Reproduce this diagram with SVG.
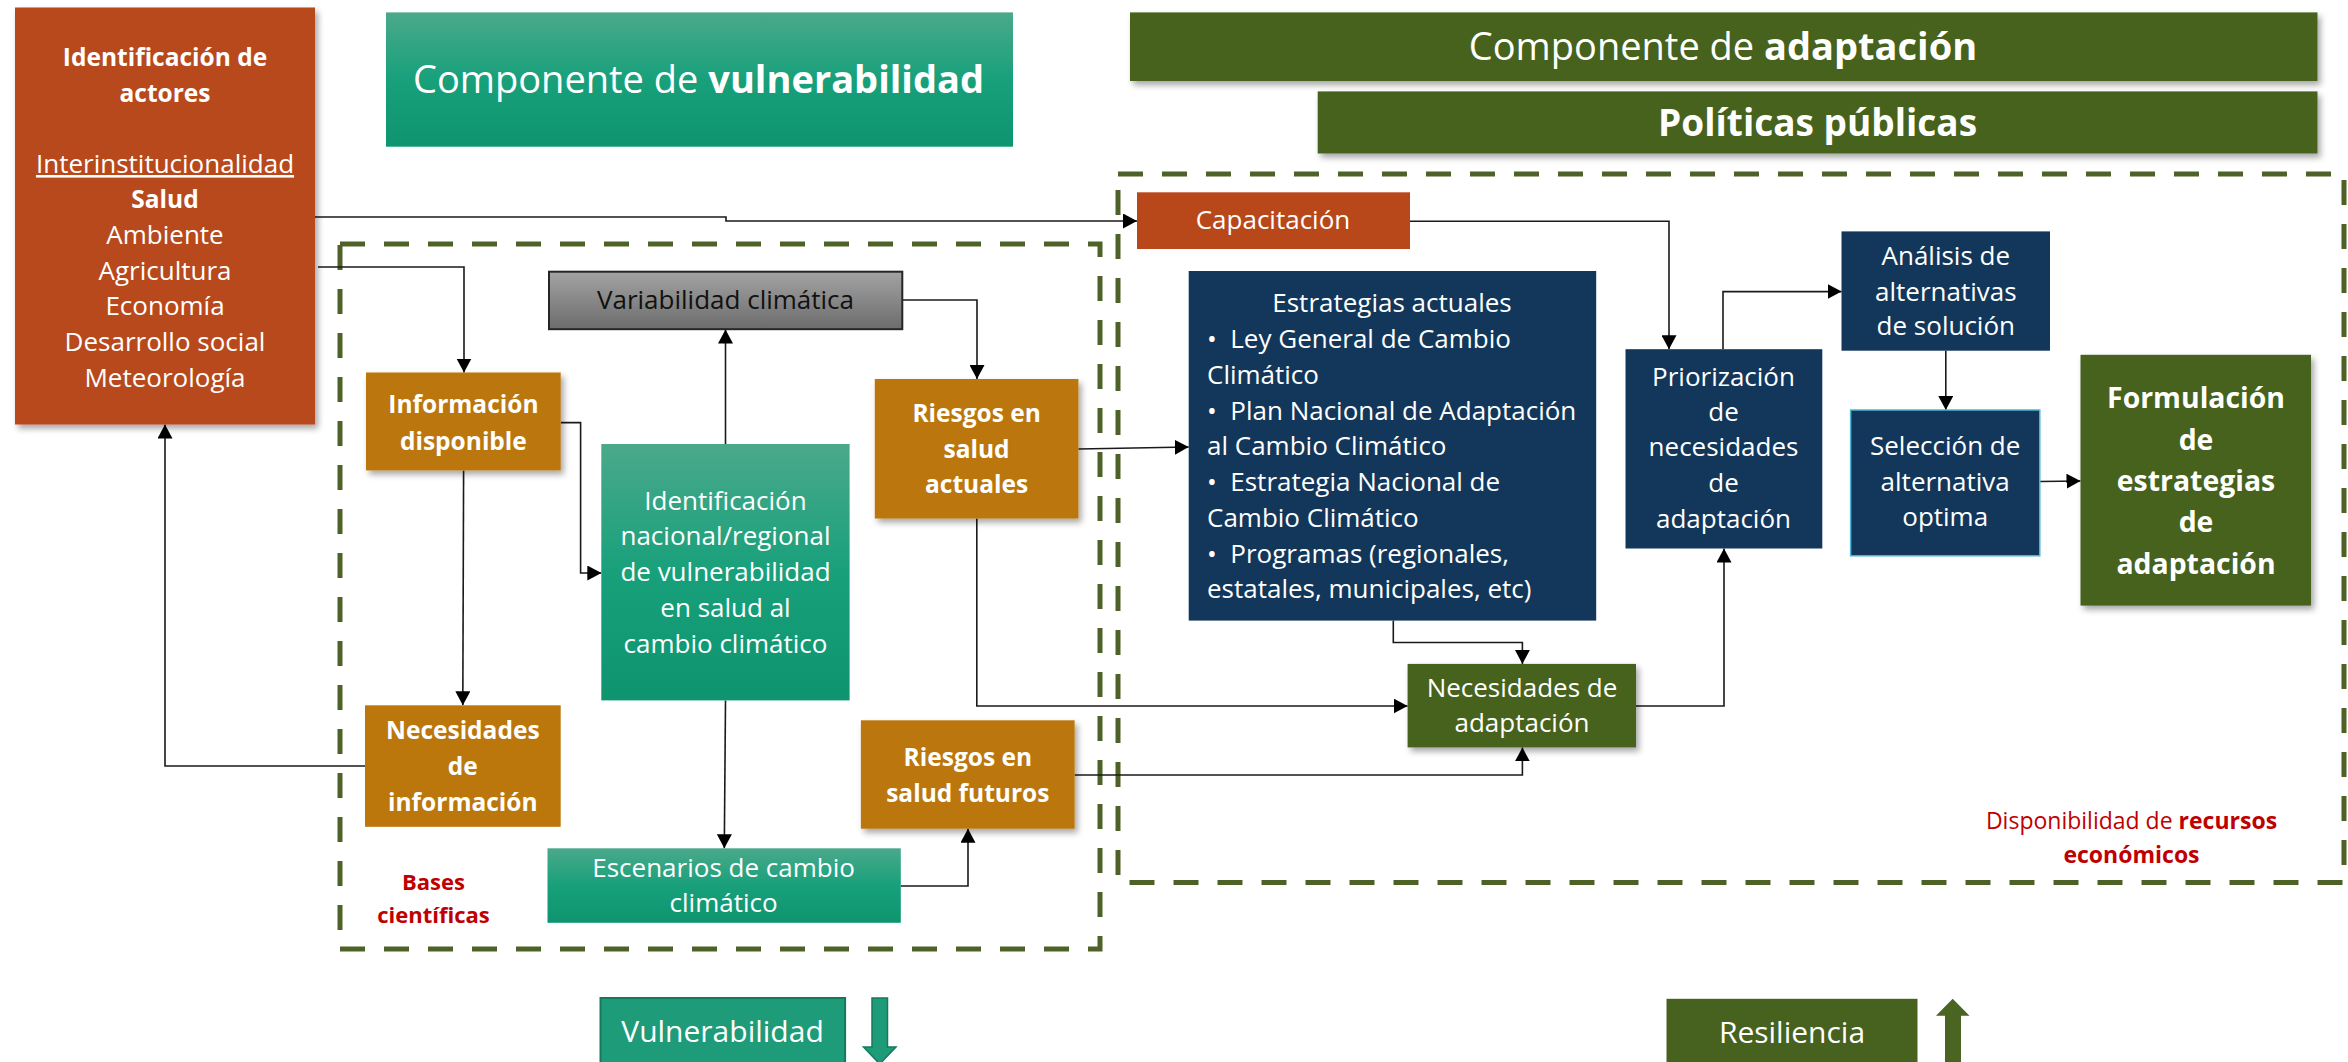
<svg xmlns="http://www.w3.org/2000/svg" width="2348" height="1062" viewBox="0 0 2348 1062">
<defs>
<style>
text{font-family:"Open Sans","Liberation Sans",sans-serif;fill:#fff;text-anchor:middle;}
.r{font-size:26px;}
.b{font-size:24.5px;font-weight:bold;}
.rust{fill:#B8481A;}
.orange{fill:#BB770B;}
.navy{fill:#12375A;}
.olive{fill:#47621F;}
.teal{fill:url(#tealG);}
.dash{fill:none;stroke:#4E6227;stroke-width:5;stroke-dasharray:25 19;}
.con{fill:none;stroke:#1a1a1a;stroke-width:1.6;marker-end:url(#ah);}
.red{fill:#C00000;}
</style>
<linearGradient id="tealG" x1="0" y1="0" x2="0" y2="1">
<stop offset="0" stop-color="#4AA98A"/>
<stop offset="0.5" stop-color="#18A07B"/>
<stop offset="1" stop-color="#0E9570"/>
</linearGradient>
<linearGradient id="grayG" x1="0" y1="0" x2="0" y2="1">
<stop offset="0" stop-color="#A3A3A3"/>
<stop offset="1" stop-color="#6C6C6C"/>
</linearGradient>
<filter id="sh" x="-10%" y="-10%" width="130%" height="130%">
<feDropShadow dx="3" dy="4" stdDeviation="3" flood-color="#000" flood-opacity="0.35"/>
</filter>
<marker id="ah" markerUnits="userSpaceOnUse" markerWidth="14" markerHeight="15" refX="14" refY="7.5" orient="auto">
<path d="M0,0 L14,7.5 L0,15 z" fill="#000"/>
</marker>
</defs>
<rect width="2348" height="1062" fill="#fff"/>

<g id="groups">
<rect class="dash" x="340" y="244" width="760" height="705"/>
<rect class="dash" x="1118" y="174" width="1226" height="708.5"/>
</g>

<g id="connectors">
<path class="con" d="M315 217 H726 V221 H1137"/>
<path class="con" d="M318 267 H464 V372.5"/>
<path class="con" d="M902 300 H977 V379"/>
<path class="con" d="M725.5 444 V329.5"/>
<path class="con" d="M560.7 422.6 H580.6 V573 H601.3"/>
<path class="con" d="M463.6 470.5 L462.8 705.3"/>
<path class="con" d="M365 766 H165 V424.5"/>
<path class="con" d="M725.5 700.5 L724.3 848.3"/>
<path class="con" d="M900.8 886 H968 V828.7"/>
<path class="con" d="M976.8 518.5 V706 H1407.6"/>
<path class="con" d="M1074.6 775 H1522.4 V747.4"/>
<path class="con" d="M1078.4 449 L1188.7 447"/>
<path class="con" d="M1393.3 620.6 V642.5 H1522.4 V663.9"/>
<path class="con" d="M1636 706 H1724 V548.5"/>
<path class="con" d="M1410 221.3 H1669 V349.2"/>
<path class="con" d="M1723 349.2 V291.6 H1841.5"/>
<path class="con" d="M1945.8 350.7 V410"/>
<path class="con" d="M2039.8 481.5 L2080.5 481"/>
</g>

<g id="actores">
<rect class="rust" x="15" y="7.5" width="300" height="417" filter="url(#sh)"/>
<text class="b" x="165" y="66">Identificación de</text>
<text class="b" x="165" y="102">actores</text>
<text class="r" x="165" y="173" text-decoration="underline">Interinstitucionalidad</text>
<text class="b" x="165" y="208">Salud</text>
<text class="r" x="165" y="244">Ambiente</text>
<text class="r" x="165" y="280">Agricultura</text>
<text class="r" x="165" y="315">Economía</text>
<text class="r" x="165" y="351">Desarrollo social</text>
<text class="r" x="165" y="386.5">Meteorología</text>
</g>

<g id="comp-vulnerabilidad">
<rect class="teal" x="386" y="12.4" width="627" height="134.3"/>
<text x="698.5" y="93.3" style="font-size:38px">Componente de <tspan font-weight="bold">vulnerabilidad</tspan></text>
</g>

<g id="comp-adaptacion">
<rect class="olive" x="1130" y="12.4" width="1187.5" height="68.6" filter="url(#sh)"/>
<text x="1723" y="60.2" style="font-size:38px">Componente de <tspan font-weight="bold">adaptación</tspan></text>
</g>

<g id="politicas">
<rect class="olive" x="1317.7" y="91.4" width="999.8" height="62.1" filter="url(#sh)"/>
<text x="1817.6" y="135.5" style="font-size:37px;font-weight:bold">Políticas públicas</text>
</g>

<g id="variabilidad">
<rect x="549" y="271.7" width="353.3" height="57.5" fill="url(#grayG)" stroke="#262626" stroke-width="2"/>
<text class="r" x="725.5" y="309.3" style="fill:#111">Variabilidad climática</text>
</g>

<g id="info-disponible">
<rect class="orange" x="366" y="372.5" width="194.7" height="97.9" filter="url(#sh)"/>
<text class="b" x="463.4" y="413">Información</text>
<text class="b" x="463.4" y="449.6">disponible</text>
</g>

<g id="riesgos-actuales">
<rect class="orange" x="874.8" y="379" width="203.6" height="139.5" filter="url(#sh)"/>
<text class="b" x="976.6" y="422">Riesgos en</text>
<text class="b" x="976.6" y="458">salud</text>
<text class="b" x="976.6" y="493">actuales</text>
</g>

<g id="identificacion">
<rect class="teal" x="601.3" y="444" width="248.3" height="256.4"/>
<text class="r" x="725.5" y="509.6">Identificación</text>
<text class="r" x="725.5" y="545.4">nacional/regional</text>
<text class="r" x="725.5" y="581.1">de vulnerabilidad</text>
<text class="r" x="725.5" y="616.9">en salud al</text>
<text class="r" x="725.5" y="653.4">cambio climático</text>
</g>

<g id="necesidades-info">
<rect class="orange" x="365" y="705.3" width="195.7" height="121.5"/>
<text class="b" x="462.8" y="739">Necesidades</text>
<text class="b" x="462.8" y="775">de</text>
<text class="b" x="462.8" y="810.7">información</text>
</g>

<g id="riesgos-futuros">
<rect class="orange" x="860.9" y="720.3" width="213.7" height="108.4" filter="url(#sh)"/>
<text class="b" x="967.8" y="766.3">Riesgos en</text>
<text class="b" x="967.8" y="802">salud futuros</text>
</g>

<g id="escenarios">
<rect class="teal" x="547.5" y="848.3" width="353.3" height="74.5"/>
<text class="r" x="723.6" y="876.5">Escenarios de cambio</text>
<text class="r" x="723.6" y="911.5">climático</text>
</g>

<g id="bases">
<text class="red" x="433.5" y="889.7" style="font-size:22px;font-weight:bold">Bases</text>
<text class="red" x="433.5" y="922.8" style="font-size:22px;font-weight:bold">científicas</text>
</g>

<g id="vulnerabilidad">
<rect x="600.5" y="998" width="244.6" height="70" fill="#1E9B78" stroke="#157A5D" stroke-width="2"/>
<text x="722.5" y="1042" style="font-size:30px">Vulnerabilidad</text>
<polygon points="872,998 887.5,998 887.5,1047 896,1047 879.7,1064 863.5,1047 872,1047" fill="#1E9B78" stroke="#157A5D" stroke-width="1.5"/>
</g>

<g id="capacitacion">
<rect class="rust" x="1137" y="192.3" width="273" height="56.7"/>
<text class="r" x="1273" y="228.8">Capacitación</text>
</g>

<g id="estrategias">
<rect class="navy" x="1188.7" y="271" width="407.5" height="349.6"/>
<text class="r" x="1392" y="312.3">Estrategias actuales</text>
<text class="r" style="text-anchor:start">
<tspan x="1207" y="348">•&#160;&#160;Ley General de Cambio</tspan>
<tspan x="1207" y="383.8">Climático</tspan>
<tspan x="1207" y="419.6">•&#160;&#160;Plan Nacional de Adaptación</tspan>
<tspan x="1207" y="455.3">al Cambio Climático</tspan>
<tspan x="1207" y="491">•&#160;&#160;Estrategia Nacional de</tspan>
<tspan x="1207" y="526.8">Cambio Climático</tspan>
<tspan x="1207" y="562.5">•&#160;&#160;Programas (regionales,</tspan>
<tspan x="1207" y="598">estatales, municipales, etc)</tspan>
</text>
</g>

<g id="priorizacion">
<rect class="navy" x="1625.5" y="349.2" width="196.8" height="199.3"/>
<text class="r" x="1723.5" y="385.7">Priorización</text>
<text class="r" x="1723.5" y="420.7">de</text>
<text class="r" x="1723.5" y="456">necesidades</text>
<text class="r" x="1723.5" y="491.8">de</text>
<text class="r" x="1723.5" y="528">adaptación</text>
</g>

<g id="analisis">
<rect class="navy" x="1841.5" y="231.4" width="208.5" height="119.3"/>
<text class="r" x="1945.8" y="265.3">Análisis de</text>
<text class="r" x="1945.8" y="301">alternativas</text>
<text class="r" x="1945.8" y="335">de solución</text>
</g>

<g id="seleccion">
<rect class="navy" x="1850.6" y="410" width="189.2" height="145.8" stroke="#4FB8D8" stroke-width="1.5"/>
<text class="r" x="1945.2" y="455.3">Selección de</text>
<text class="r" x="1945.2" y="491">alternativa</text>
<text class="r" x="1945.2" y="526">optima</text>
</g>

<g id="formulacion">
<rect class="olive" x="2080.5" y="354.8" width="230.5" height="250.8" filter="url(#sh)"/>
<g style="font-size:28.4px;font-weight:bold">
<text x="2196" y="407.5">Formulación</text>
<text x="2196" y="449.6">de</text>
<text x="2196" y="491">estrategias</text>
<text x="2196" y="532.4">de</text>
<text x="2196" y="573.8">adaptación</text>
</g>
</g>

<g id="necesidades-adaptacion">
<rect class="olive" x="1407.6" y="663.9" width="228.4" height="83.5" filter="url(#sh)"/>
<text class="r" x="1522" y="697">Necesidades de</text>
<text class="r" x="1522" y="732.4">adaptación</text>
</g>

<g id="recursos">
<text class="red" x="2131.5" y="828.7" style="font-size:23px">Disponibilidad de <tspan font-weight="bold">recursos</tspan></text>
<text class="red" x="2131.5" y="862.6" style="font-size:23px;font-weight:bold">económicos</text>
</g>

<g id="resiliencia">
<rect x="1666.5" y="998.8" width="251" height="70" fill="#47621F"/>
<text x="1792" y="1043" style="font-size:30px">Resiliencia</text>
<polygon points="1952.7,998.8 1969.5,1015.7 1961,1015.7 1961,1066 1945,1066 1945,1015.7 1936,1015.7" fill="#4A6422"/>
</g>
</svg>
